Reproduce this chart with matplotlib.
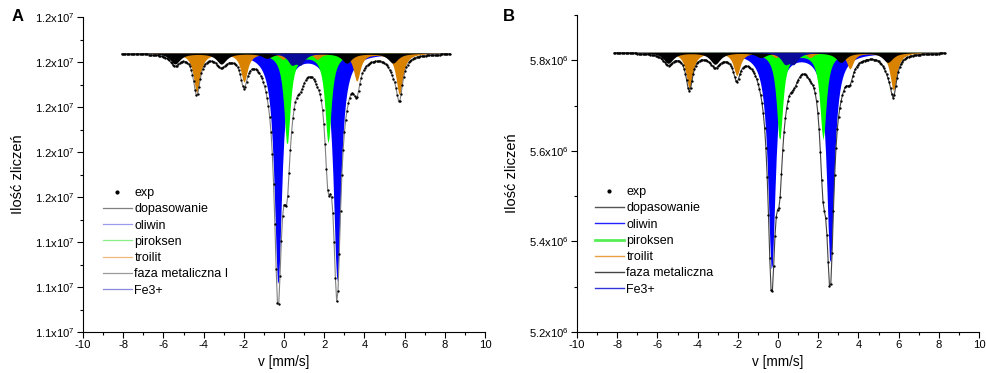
import numpy as np
import matplotlib
matplotlib.use('Agg')
from matplotlib import pyplot as plt
from matplotlib.lines import Line2D
from matplotlib.ticker import FixedLocator, FixedFormatter, MultipleLocator

plt.rcParams['font.family'] = ['Liberation Sans', 'DejaVu Sans']
plt.rcParams['mathtext.fontset'] = 'custom'
plt.rcParams['mathtext.rm'] = 'Liberation Sans'
plt.rcParams['axes.unicode_minus'] = False

# measured velocity range [mm/s] and number of channels
v_range_A = [-8.08, 8.26]
v_range_B = [-8.16, 8.31]
n_channels = 256

# off-resonance baseline [counts]
base_A = 1.1870e7
base_B = 5.8177e6

# subspectra: line positions [mm/s], depths [counts]
oliwin_pos_A = [-0.30, 2.64]
oliwin_dep_A = [517000, 508000]
piroksen_pos_A = [0.15, 2.19]
piroksen_dep_A = [204000, 200000]
troilit_pos_A = [-4.34, -1.99, -0.05, 1.65, 3.62, 5.74]
troilit_dep_A = [89000, 64000, 13000, 13000, 62000, 93000]
metal_pos_A = [-5.42, -3.12, -0.85, 0.85, 3.12, 5.42]
metal_dep_A = [24000, 24000, 11000, 11000, 22000, 22000]
fe3_pos_A = [0.38, 0.82]
fe3_dep_A = [22000, 22000]

oliwin_pos_B = [-0.32, 2.60]
oliwin_dep_B = [482000, 468000]
piroksen_pos_B = [0.08, 2.24]
piroksen_dep_B = [194000, 192000]
troilit_pos_B = [-4.41, -2.05, -0.10, 1.60, 3.58, 5.74]
troilit_dep_B = [80000, 51000, 11000, 11000, 36000, 84000]
metal_pos_B = [-5.46, -3.13, -0.85, 0.85, 3.13, 5.46]
metal_dep_B = [24000, 26000, 11000, 11000, 22000, 22000]
fe3_pos_B = [0.35, 0.78]
fe3_dep_B = [22000, 22000]

# half widths of the lines [mm/s]
hw_oliwin = 0.22
hw_piroksen = 0.19
hw_troilit = 0.20
hw_metal = 0.30
hw_fe3 = 0.25

# axis ticks
ylim_A = [1.125e7, 1.195e7]
yticks_A = [1.125e7, 1.135e7, 1.145e7, 1.155e7, 1.165e7, 1.175e7, 1.185e7, 1.195e7]
ylabels_A = ['1.1', '1.1', '1.1', '1.2', '1.2', '1.2', '1.2', '1.2']
ylim_B = [5.2e6, 5.9e6]
yticks_B = [5.2e6, 5.4e6, 5.6e6, 5.8e6]
ylabels_B = ['5.2', '5.4', '5.6', '5.8']

labels_A = ['exp', 'dopasowanie', 'oliwin', 'piroksen', 'troilit',
            'faza metaliczna I', 'Fe3+']
labels_B = ['exp', 'dopasowanie', 'oliwin', 'piroksen', 'troilit',
            'faza metaliczna', 'Fe3+']


def absorption(v, pos, dep, hw):
    a = np.zeros_like(v)
    for p, d in zip(pos, dep):
        a += d / (1.0 + ((v - p) / hw) ** 2)
    return a


def panel(ax, v_range, base, comps, fit_color, ylim, yticks, ylabels, expo,
          labels, leg_colors, leg_widths, leg_x):
    v = np.linspace(v_range[0], v_range[1], n_channels)
    total = np.zeros_like(v)
    for pos, dep, hw, col in comps:
        a = absorption(v, pos, dep, hw)
        total += a
        ax.fill_between(v, base, base - a, color=col, lw=0)
    ax.plot(v, base - total, color=fit_color, lw=0.8, zorder=3)
    ax.plot(v, base - total, 'o', color='black', ms=1.7, mew=0, zorder=4)

    ax.set_xlim(-10, 10)
    ax.xaxis.set_major_locator(MultipleLocator(2))
    ax.xaxis.set_minor_locator(MultipleLocator(1))
    ax.set_ylim(ylim)
    ax.yaxis.set_major_locator(FixedLocator(yticks))
    step = yticks[1] - yticks[0]
    ax.yaxis.set_minor_locator(FixedLocator([t + step / 2 for t in yticks]))
    ax.yaxis.set_major_formatter(FixedFormatter(
        [s + 'x10$^{\\mathrm{%d}}$' % expo for s in ylabels]))
    for s in ['top', 'right']:
        ax.spines[s].set_visible(False)
    ax.tick_params(which='major', direction='out', length=4, width=0.8,
                   labelsize=8.1, pad=2)
    ax.tick_params(which='minor', direction='out', length=2.5, width=0.8)
    ax.tick_params(axis='y', which='major', pad=2)
    ax.set_xlabel('v [mm/s]', fontsize=9.8)
    ax.xaxis.set_label_coords(0.5, -0.073)
    ax.set_ylabel('Ilość zliczeń', fontsize=10.5)
    ax.yaxis.set_label_coords(-0.144, 0.5)

    handles = [Line2D([], [], ls='none', marker='o', ms=2, color='black')]
    for c, w in zip(leg_colors, leg_widths):
        handles.append(Line2D([], [], color=c, lw=w))
    ax.legend(handles, labels, loc='upper left', bbox_to_anchor=(leg_x, 0.46),
              frameon=False, fontsize=9, numpoints=1, handlelength=2.3,
              handletextpad=0.2, labelspacing=0.34, borderpad=0,
              borderaxespad=0)


fig = plt.figure(figsize=(9.87, 3.73), dpi=100)
axA = fig.add_axes([0.0841, 0.1099, 0.4073, 0.8445])
axB = fig.add_axes([0.5846, 0.1099, 0.4073, 0.8499])

comps_A = [(oliwin_pos_A, oliwin_dep_A, hw_oliwin, '#0000ff'),
           (piroksen_pos_A, piroksen_dep_A, hw_piroksen, '#00ff00'),
           (troilit_pos_A, troilit_dep_A, hw_troilit, '#d98200'),
           (metal_pos_A, metal_dep_A, hw_metal, '#000000'),
           (fe3_pos_A, fe3_dep_A, hw_fe3, '#0a0a9a')]
comps_B = [(oliwin_pos_B, oliwin_dep_B, hw_oliwin, '#0000ff'),
           (piroksen_pos_B, piroksen_dep_B, hw_piroksen, '#00ff00'),
           (troilit_pos_B, troilit_dep_B, hw_troilit, '#d98200'),
           (metal_pos_B, metal_dep_B, hw_metal, '#000000'),
           (fe3_pos_B, fe3_dep_B, hw_fe3, '#0a0a9a')]

panel(axA, v_range_A, base_A, comps_A, '#808080', ylim_A, yticks_A, ylabels_A,
      7, labels_A,
      ['#808080', '#9a9aee', '#88ee88', '#f0b878', '#9a9a9a', '#8888dd'],
      [0.9, 0.9, 0.9, 0.9, 0.9, 0.9], 0.05)
panel(axB, v_range_B, base_B, comps_B, '#404040', ylim_B, yticks_B, ylabels_B,
      6, labels_B,
      ['#555555', '#2222ff', '#55ee55', '#e8a040', '#444444', '#3333dd'],
      [1.0, 1.0, 2.0, 1.0, 1.0, 1.0], 0.045)

fig.text(0.012, 0.945, 'A', fontsize=12, fontweight='bold')
fig.text(0.509, 0.945, 'B', fontsize=12, fontweight='bold')

fig.savefig('out.png', dpi=100)
